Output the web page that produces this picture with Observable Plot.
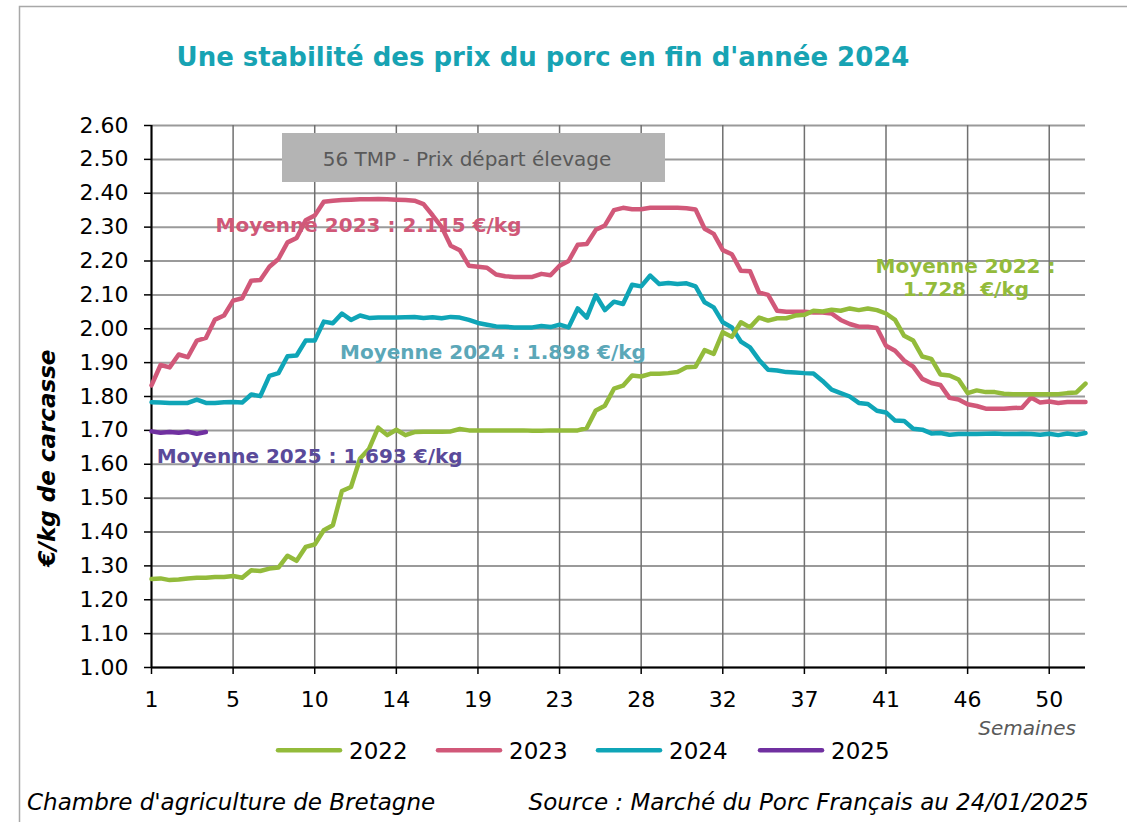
<!DOCTYPE html>
<html><head><meta charset="utf-8">
<script src="https://cdn.jsdelivr.net/npm/d3@7"></script>
<script src="https://cdn.jsdelivr.net/npm/@observablehq/plot@0.6"></script>
<style>
html,body{margin:0;padding:0;background:#fff;}
#chart{position:relative;width:1127px;height:822px;overflow:hidden;background:#fff;}
</style></head><body><div id="chart"></div>
<script>
// Categories / series
const years = ["2022", "2023", "2024", "2025"];
const colors = ["#93bb3b", "#d15879", "#0fa5b7", "#7030a0"];
const averages = ["1.728", "2.115", "1.898", "1.693"];

// x axis: quotation index (two quotations per week); labelled week numbers
const weekTicks = [0, 9, 18, 27, 36, 45, 54, 63, 72, 81, 90, 99];
const weekLabels = ["1", "5", "10", "14", "19", "23", "28", "32", "37", "41", "46", "50"];
const yTicks = [1.0, 1.1, 1.2, 1.3, 1.4, 1.5, 1.6, 1.7, 1.8, 1.9, 2.0, 2.1, 2.2, 2.3, 2.4, 2.5, 2.6];

const p2022 = [1.261, 1.263, 1.258, 1.260, 1.263, 1.265, 1.265, 1.267, 1.267, 1.270,
  1.265, 1.287, 1.285, 1.292, 1.295, 1.330, 1.315, 1.356, 1.363, 1.405,
  1.420, 1.521, 1.533, 1.617, 1.646, 1.708, 1.686, 1.702, 1.686, 1.695,
  1.696, 1.696, 1.696, 1.697, 1.704, 1.700, 1.700, 1.700, 1.700, 1.700,
  1.700, 1.700, 1.699, 1.699, 1.700, 1.700, 1.700, 1.700, 1.707, 1.759,
  1.773, 1.823, 1.832, 1.862, 1.859, 1.867, 1.867, 1.869, 1.872, 1.886,
  1.888, 1.937, 1.926, 1.990, 1.976, 2.019, 2.004, 2.033, 2.024, 2.031,
  2.031, 2.039, 2.041, 2.053, 2.051, 2.056, 2.053, 2.060, 2.055, 2.060,
  2.055, 2.045, 2.026, 1.979, 1.965, 1.918, 1.911, 1.865, 1.862, 1.850,
  1.810, 1.818, 1.813, 1.813, 1.808, 1.807, 1.807, 1.807, 1.807, 1.807,
  1.807, 1.810, 1.812, 1.838];
const p2023 = [1.833, 1.893, 1.886, 1.924, 1.916, 1.965, 1.973, 2.027, 2.039, 2.083,
  2.090, 2.142, 2.144, 2.183, 2.206, 2.255, 2.268, 2.320, 2.334, 2.375,
  2.378, 2.380, 2.381, 2.382, 2.382, 2.383, 2.382, 2.381, 2.380, 2.378,
  2.368, 2.335, 2.300, 2.245, 2.232, 2.186, 2.183, 2.180, 2.160, 2.155,
  2.153, 2.153, 2.153, 2.162, 2.158, 2.186, 2.200, 2.248, 2.250, 2.292,
  2.305, 2.350, 2.357, 2.353, 2.353, 2.357, 2.357, 2.357, 2.357, 2.356,
  2.352, 2.295, 2.280, 2.232, 2.220, 2.171, 2.170, 2.107, 2.100, 2.053,
  2.050, 2.050, 2.050, 2.048, 2.048, 2.045, 2.026, 2.014, 2.006, 2.006,
  2.002, 1.950, 1.935, 1.906, 1.888, 1.852, 1.840, 1.834, 1.796, 1.791,
  1.777, 1.772, 1.764, 1.764, 1.764, 1.766, 1.767, 1.797, 1.782, 1.785,
  1.781, 1.784, 1.784, 1.784];
const p2024 = [1.783, 1.782, 1.781, 1.781, 1.781, 1.791, 1.781, 1.781, 1.783, 1.784,
  1.782, 1.806, 1.801, 1.861, 1.869, 1.919, 1.921, 1.965, 1.965, 2.021,
  2.016, 2.045, 2.026, 2.039, 2.032, 2.033, 2.033, 2.033, 2.034, 2.035,
  2.032, 2.034, 2.031, 2.035, 2.033, 2.026, 2.017, 2.012, 2.007, 2.006,
  2.004, 2.004, 2.004, 2.008, 2.005, 2.012, 2.004, 2.060, 2.033, 2.099,
  2.055, 2.080, 2.073, 2.130, 2.125, 2.157, 2.132, 2.135, 2.132, 2.134,
  2.125, 2.078, 2.063, 2.019, 2.004, 1.962, 1.945, 1.908, 1.879, 1.877,
  1.872, 1.871, 1.869, 1.868, 1.846, 1.820, 1.810, 1.800, 1.781, 1.778,
  1.758, 1.753, 1.729, 1.728, 1.705, 1.702, 1.691, 1.692, 1.687, 1.689,
  1.689, 1.689, 1.690, 1.691, 1.689, 1.689, 1.690, 1.689, 1.687, 1.690,
  1.686, 1.691, 1.687, 1.692];
const p2025 = [1.697, 1.693, 1.695, 1.693, 1.696, 1.690, 1.695];

// draw order
const seriesOrder = [["2023", p2023], ["2024", p2024], ["2022", p2022], ["2025", p2025]];
const rows = seriesOrder.flatMap(([year, vals]) => vals.map((v, i) => ({year, i, v})));

const fmt = d3.format(".2f");
const chart = Plot.plot({
  width: 1127,
  height: 822,
  marginLeft: 151,
  marginRight: 42,
  marginTop: 125,
  marginBottom: 155,
  style: {fontFamily: "DejaVu Sans", fontSize: "22px", color: "#000", background: "transparent", overflow: "visible"},
  x: {domain: [0, 103]},
  y: {domain: [1, 2.6]},
  color: {domain: years, range: colors},
  marks: [
    Plot.gridY(yTicks, {stroke: "#9a9a9a", strokeOpacity: 1, strokeWidth: 2}),
    Plot.gridX(weekTicks, {stroke: "#707070", strokeOpacity: 1, strokeWidth: 1.5}),
    Plot.axisY(yTicks, {tickFormat: fmt, tickSize: 7, tickPadding: 16, fontSize: 22, label: null, stroke: "#000", strokeWidth: 1.5}),
    Plot.axisX(weekTicks, {tickFormat: d => weekLabels[weekTicks.indexOf(d)], tickSize: 7, tickPadding: 17, fontSize: 22, label: null, stroke: "#000", strokeWidth: 1.5}),
    Plot.ruleX([0], {stroke: "#000", strokeWidth: 2}),
    Plot.ruleY([1], {stroke: "#000", strokeWidth: 2}),
    Plot.line(rows, {x: "i", y: "v", z: "year", stroke: "year", strokeWidth: 4.5, strokeLinejoin: "round", strokeLinecap: "round"})
  ]
});
document.getElementById("chart").appendChild(chart);

const svg = d3.select(chart);
const ff = "DejaVu Sans";
// outer frame
svg.append("path").attr("d", "M19.5,822V6.5H1127").attr("fill", "none").attr("stroke", "#a8a8a8").attr("stroke-width", 1.5);

function txt(s, x, y, o = {}) {
  return svg.append("text").text(s).attr("x", x).attr("y", y)
    .attr("font-family", ff).attr("font-size", o.size || 22)
    .attr("font-weight", o.weight || "normal").attr("font-style", o.style || "normal")
    .attr("fill", o.fill || "#000").attr("text-anchor", o.anchor || "start")
    .style("white-space", "pre");
}

// title
txt("Une stabilité des prix du porc en fin d'année 2024", 543, 65.7, {size: 26, weight: "bold", fill: "#17a3b3", anchor: "middle"});
// grey box
svg.append("rect").attr("x", 282).attr("y", 133).attr("width", 383).attr("height", 49).attr("fill", "#b4b4b4");
txt("56 TMP - Prix départ élevage", 467, 165.7, {size: 20, fill: "#595959", anchor: "middle"});
// averages
txt("Moyenne 2023 : " + averages[1] + " €/kg", 368.5, 231.7, {size: 20, weight: "bold", fill: "#d05878", anchor: "middle"});
txt("Moyenne 2024 : " + averages[2] + " €/kg", 340, 359, {size: 20, weight: "bold", fill: "#5ba7b8"});
txt("Moyenne 2025 : " + averages[3] + " €/kg", 156.7, 463.3, {size: 20, weight: "bold", fill: "#5a4a9a"});
txt("Moyenne 2022 :", 965.5, 273.3, {size: 20, weight: "bold", fill: "#93bb3b", anchor: "middle"});
txt(averages[0] + "  €/kg", 966, 295.7, {size: 20, weight: "bold", fill: "#93bb3b", anchor: "middle"});
// y label
txt("€/kg de carcasse", 0, 0, {size: 23, weight: "bold", style: "italic", anchor: "middle"})
  .attr("transform", "translate(55,458) rotate(-90)");
// x label
txt("Semaines", 1076, 735, {size: 20, style: "italic", fill: "#595959", anchor: "end"});
// legend
const legX = [278, 438, 598, 760];
years.forEach((y, k) => {
  svg.append("line").attr("x1", legX[k]).attr("x2", legX[k] + 62).attr("y1", 750.3).attr("y2", 750.3)
    .attr("stroke", colors[k]).attr("stroke-width", 4.5).attr("stroke-linecap", "round");
  txt(y, legX[k] + 71, 759, {size: 23});
});
// footer
txt("Chambre d'agriculture de Bretagne", 27, 810, {size: 23, style: "italic"});
txt("Source : Marché du Porc Français au 24/01/2025", 1088.7, 810, {size: 23, style: "italic", anchor: "end"});
</script>
</body></html>
